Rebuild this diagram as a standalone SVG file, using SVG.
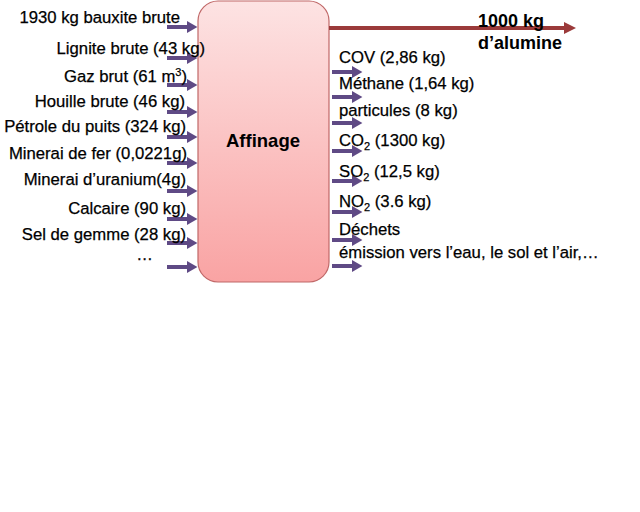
<svg xmlns="http://www.w3.org/2000/svg" width="640" height="512" viewBox="0 0 640 512">
<style>
  .t { font-family: "Liberation Sans", Arial, sans-serif; font-size: 16.7px; fill: #000; stroke: #000; stroke-width: 0.25px; }
  .b { font-family: "Liberation Sans", Arial, sans-serif; font-weight: bold; fill: #000; }
  .r { text-anchor: end; }
  .s { font-size: 11px; }
</style>
<defs>
  <linearGradient id="g" x1="0" y1="0" x2="0" y2="1">
    <stop offset="0" stop-color="#fde3e3"/>
    <stop offset="1" stop-color="#f9a3a3"/>
  </linearGradient>
  <marker id="ap" markerWidth="3" markerHeight="3" refX="0.5" refY="1.5" orient="auto" markerUnits="strokeWidth">
    <path d="M0,0 L2.6,1.5 L0,3 z" fill="#5f4a85"/>
  </marker>
  <marker id="ar" markerWidth="3" markerHeight="3" refX="0.5" refY="1.5" orient="auto" markerUnits="strokeWidth">
    <path d="M0,0 L3,1.5 L0,3 z" fill="#9b3a3a"/>
  </marker>
</defs>
<rect width="640" height="512" fill="#fff"/>
<g id="affinage">
  <rect x="198" y="1" width="131" height="281" rx="20" ry="20" fill="url(#g)" stroke="#c06868" stroke-width="1.2"/>
  <text class="b" x="263" y="147" font-size="18.5" text-anchor="middle">Affinage</text>
</g>
<g id="connectors" fill="none" stroke-width="4">
  <g stroke="#5f4a85" marker-end="url(#ap)">
    <line x1="167" y1="27" x2="189" y2="27"/>
    <line x1="167" y1="58" x2="189" y2="58"/>
    <line x1="167" y1="85" x2="189" y2="85"/>
    <line x1="167" y1="112" x2="189" y2="112"/>
    <line x1="167" y1="137" x2="189" y2="137"/>
    <line x1="167" y1="163" x2="189" y2="163"/>
    <line x1="167" y1="191" x2="189" y2="191"/>
    <line x1="167" y1="219" x2="189" y2="219"/>
    <line x1="167" y1="243" x2="189" y2="243"/>
    <line x1="167" y1="267" x2="189" y2="267"/>
    <line x1="332" y1="72" x2="354" y2="72"/>
    <line x1="332" y1="97" x2="354" y2="97"/>
    <line x1="332" y1="123" x2="354" y2="123"/>
    <line x1="332" y1="151" x2="354" y2="151"/>
    <line x1="332" y1="181" x2="354" y2="181"/>
    <line x1="332" y1="212" x2="354" y2="212"/>
    <line x1="332" y1="240" x2="354" y2="240"/>
    <line x1="332" y1="266" x2="354" y2="266"/>
  </g>
  <line x1="329" y1="28" x2="566" y2="28" stroke="#9b3a3a" marker-end="url(#ar)"/>
</g>
<g id="inputs">
  <text class="t r" x="180" y="23">1930 kg bauxite brute</text>
  <text class="t r" x="205" y="54">Lignite brute (43 kg)</text>
  <text class="t r" x="187" y="82">Gaz brut (61 m<tspan class="s" dy="-6">3</tspan><tspan dy="6">)</tspan></text>
  <text class="t r" x="185" y="107">Houille brute (46 kg)</text>
  <text class="t r" x="186" y="132">Pétrole du puits (324 kg)</text>
  <text class="t r" x="187" y="159">Minerai de fer (0,0221g)</text>
  <text class="t r" x="186" y="185">Minerai d’uranium(4g)</text>
  <text class="t r" x="186" y="214">Calcaire (90 kg)</text>
  <text class="t r" x="186" y="240">Sel de gemme (28 kg)</text>
  <text class="t r" x="153" y="260">…</text>
</g>
<g id="outputs">
  <text class="b" x="478" y="27" font-size="18">1000 kg</text>
  <text class="b" x="478" y="49" font-size="18">d’alumine</text>
  <text class="t" x="339" y="63">COV (2,86 kg)</text>
  <text class="t" x="339" y="89">Méthane (1,64 kg)</text>
  <text class="t" x="339" y="116">particules (8 kg)</text>
  <text class="t" x="339" y="146">CO<tspan class="s" dy="4">2</tspan><tspan dy="-4"> (1300 kg)</tspan></text>
  <text class="t" x="339" y="177">SO<tspan class="s" dy="4">2</tspan><tspan dy="-4"> (12,5 kg)</tspan></text>
  <text class="t" x="339" y="207">NO<tspan class="s" dy="4">2</tspan><tspan dy="-4"> (3.6 kg)</tspan></text>
  <text class="t" x="339" y="235">Déchets</text>
  <text class="t" x="339" y="258">émission vers l’eau, le sol et l’air,…</text>
</g>
</svg>
